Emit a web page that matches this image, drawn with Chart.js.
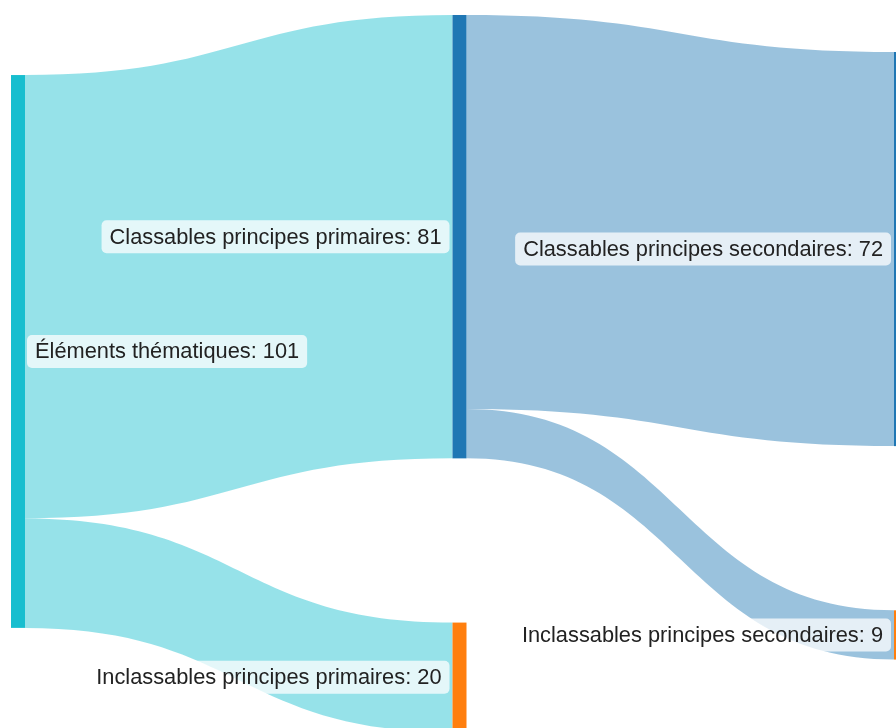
<!DOCTYPE html>
<html>
<head>
<meta charset="utf-8">
<script src="https://cdn.jsdelivr.net/npm/chart.js@4.4.1/dist/chart.umd.min.js"></script>
<style>
  html, body { margin: 0; padding: 0; background: #fff; }
  #myChart { display: block; }
</style>
</head>
<body>
<canvas id="myChart" width="896" height="728"></canvas>
<script>
// nodes of the sankey
var nodeLabels = [
    'Éléments thématiques',
    'Classables principes primaires',
    'Inclassables principes primaires',
    'Classables principes secondaires',
    'Inclassables principes secondaires'
];
// links (source -> target, value)
var linkSource = [0, 0, 1, 1];
var linkTarget = [1, 2, 3, 4];
var linkValue = [81, 20, 72, 9];

// styles / layout (not data)
var nodeColors = ['#17becf', '#1f77b4', '#ff7f0e', '#1f77b4', '#ff7f0e'];
var linkAlpha = 0.45;
var columnTop = [13.71, 2.74, 9.5];   // in value units on the y scale
var nodeGap = 30;                      // in value units
var nodeWidth = 14;                    // px

function hexToRgba(hex, a) {
    var n = parseInt(hex.slice(1), 16);
    return 'rgba(' + (n >> 16 & 255) + ',' + (n >> 8 & 255) + ',' + (n & 255) + ',' + a + ')';
}

// work out columns, node sizes and stacking from the links
function buildLayout() {
    var n = nodeLabels.length;
    var col = new Array(n).fill(0);
    for (var k = 0; k < n; k++) {
        for (var i = 0; i < linkSource.length; i++) {
            col[linkTarget[i]] = Math.max(col[linkTarget[i]], col[linkSource[i]] + 1);
        }
    }
    var inSum = new Array(n).fill(0), outSum = new Array(n).fill(0);
    for (var i = 0; i < linkSource.length; i++) {
        outSum[linkSource[i]] += linkValue[i];
        inSum[linkTarget[i]] += linkValue[i];
    }
    var size = [], top = [], colCursor = columnTop.slice();
    for (var j = 0; j < n; j++) {
        size[j] = Math.max(inSum[j], outSum[j]);
        top[j] = colCursor[col[j]];
        colCursor[col[j]] += size[j] + nodeGap;
    }
    // link offsets inside each node
    var outOff = top.slice(), inOff = top.slice(), links = [];
    for (var i = 0; i < linkSource.length; i++) {
        var s = linkSource[i], t = linkTarget[i], v = linkValue[i];
        links.push({ s: s, t: t, v: v, sy: outOff[s], ty: inOff[t] });
        outOff[s] += v;
        inOff[t] += v;
    }
    return { col: col, size: size, top: top, links: links };
}

var layout = buildLayout();

var sankeyPlugin = {
    id: 'sankey',
    beforeDatasetsDraw: function (chart) {
        var ctx = chart.ctx, xs = chart.scales.x, ys = chart.scales.y;
        ctx.save();
        // links
        layout.links.forEach(function (l) {
            var x0 = xs.getPixelForValue(layout.col[l.s]) + nodeWidth;
            var x1 = xs.getPixelForValue(layout.col[l.t]);
            var xm = (x0 + x1) / 2;
            var a0 = ys.getPixelForValue(l.sy), a1 = ys.getPixelForValue(l.sy + l.v);
            var b0 = ys.getPixelForValue(l.ty), b1 = ys.getPixelForValue(l.ty + l.v);
            ctx.beginPath();
            ctx.moveTo(x0, a0);
            ctx.bezierCurveTo(xm, a0, xm, b0, x1, b0);
            ctx.lineTo(x1, b1);
            ctx.bezierCurveTo(xm, b1, xm, a1, x0, a1);
            ctx.closePath();
            ctx.fillStyle = hexToRgba(nodeColors[l.s], linkAlpha);
            ctx.fill();
        });
        // nodes
        for (var j = 0; j < nodeLabels.length; j++) {
            var x = xs.getPixelForValue(layout.col[j]);
            var y0 = ys.getPixelForValue(layout.top[j]);
            var y1 = ys.getPixelForValue(layout.top[j] + layout.size[j]);
            ctx.fillStyle = nodeColors[j];
            ctx.fillRect(x, y0, nodeWidth, y1 - y0);
        }
        ctx.restore();
    },
    afterDatasetsDraw: function (chart) {
        var ctx = chart.ctx, xs = chart.scales.x, ys = chart.scales.y;
        ctx.save();
        ctx.font = '21.8px "Liberation Sans", Arial, sans-serif';
        ctx.textBaseline = 'middle';
        for (var j = 0; j < nodeLabels.length; j++) {
            var text = nodeLabels[j] + ': ' + layout.size[j];
            var w = ctx.measureText(text).width;
            var x = xs.getPixelForValue(layout.col[j]);
            var yc = ys.getPixelForValue(layout.top[j] + layout.size[j] / 2);
            var bw = w + 16, bh = 33, bx;
            if (layout.col[j] === 0) bx = x + nodeWidth + 2;
            else bx = x - 3 - bw;
            ctx.fillStyle = 'rgba(255,255,255,0.75)';
            ctx.beginPath();
            ctx.roundRect(bx, yc - bh / 2, bw, bh, 5);
            ctx.fill();
            ctx.fillStyle = '#222';
            ctx.fillText(text, bx + 8, yc + 1);
        }
        ctx.restore();
    }
};

var ctx = document.getElementById('myChart').getContext('2d');
var myChart = new Chart(ctx, {
    type: 'scatter',
    data: { datasets: [{ data: [], pointRadius: 0 }] },
    options: {
        responsive: false,
        animation: false,
        layout: { padding: 0 },
        plugins: { legend: { display: false }, tooltip: { enabled: false } },
        scales: {
            x: { type: 'linear', display: false, min: -11 / 441.5, max: 885 / 441.5 },
            y: { type: 'linear', display: false, reverse: true, min: 0, max: 133 }
        }
    },
    plugins: [sankeyPlugin]
});
</script>
</body>
</html>
